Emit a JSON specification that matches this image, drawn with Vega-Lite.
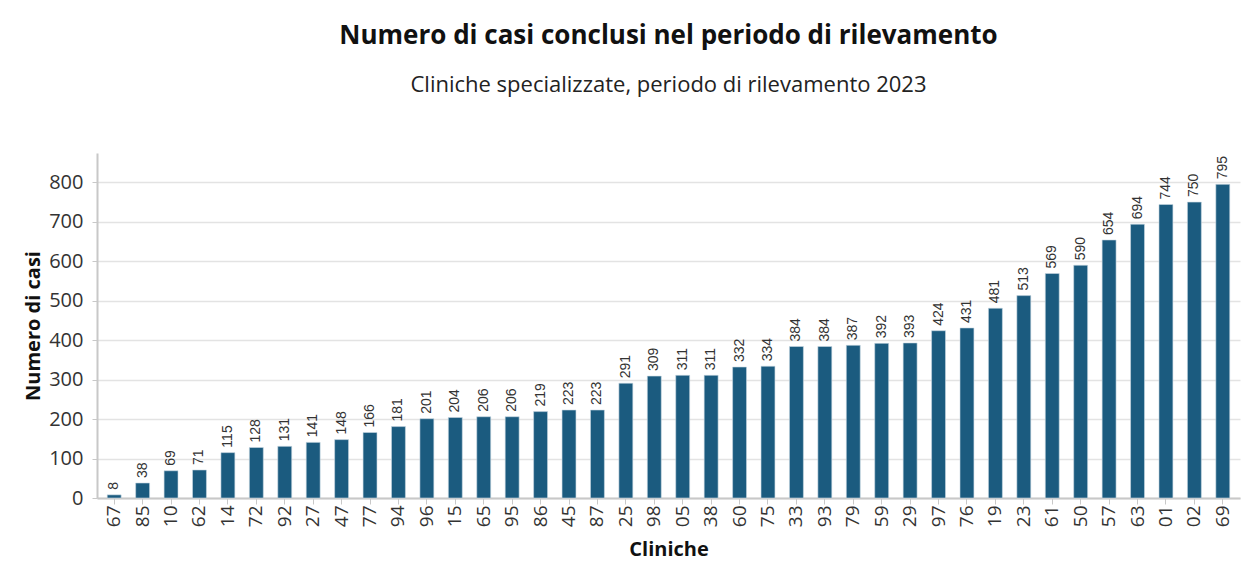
{
  "$schema": "https://vega.github.io/schema/vega-lite/v6.json",
  "width": 1143,
  "height": 345,
  "autosize": {"type": "none"},
  "padding": {"left": 97, "top": 153, "right": 8, "bottom": 73},
  "background": "white",
  "title": {
    "text": "Numero di casi conclusi nel periodo di rilevamento",
    "subtitle": "Cliniche specializzate, periodo di rilevamento 2023",
    "anchor": "middle",
    "frame": "group",
    "font": "Open Sans",
    "fontSize": 26,
    "fontWeight": "bold",
    "color": "#111111",
    "subtitleFont": "Open Sans",
    "subtitleFontSize": 22,
    "subtitleColor": "#222222",
    "subtitlePadding": 26,
    "offset": 57
  },
  "data": {
    "values": [
      {"clinica": "67", "casi": 8},
      {"clinica": "85", "casi": 38},
      {"clinica": "10", "casi": 69},
      {"clinica": "62", "casi": 71},
      {"clinica": "14", "casi": 115},
      {"clinica": "72", "casi": 128},
      {"clinica": "92", "casi": 131},
      {"clinica": "27", "casi": 141},
      {"clinica": "47", "casi": 148},
      {"clinica": "77", "casi": 166},
      {"clinica": "94", "casi": 181},
      {"clinica": "96", "casi": 201},
      {"clinica": "15", "casi": 204},
      {"clinica": "65", "casi": 206},
      {"clinica": "95", "casi": 206},
      {"clinica": "86", "casi": 219},
      {"clinica": "45", "casi": 223},
      {"clinica": "87", "casi": 223},
      {"clinica": "25", "casi": 291},
      {"clinica": "98", "casi": 309},
      {"clinica": "05", "casi": 311},
      {"clinica": "38", "casi": 311},
      {"clinica": "60", "casi": 332},
      {"clinica": "75", "casi": 334},
      {"clinica": "33", "casi": 384},
      {"clinica": "93", "casi": 384},
      {"clinica": "79", "casi": 387},
      {"clinica": "59", "casi": 392},
      {"clinica": "29", "casi": 393},
      {"clinica": "97", "casi": 424},
      {"clinica": "76", "casi": 431},
      {"clinica": "19", "casi": 481},
      {"clinica": "23", "casi": 513},
      {"clinica": "61", "casi": 569},
      {"clinica": "50", "casi": 590},
      {"clinica": "57", "casi": 654},
      {"clinica": "63", "casi": 694},
      {"clinica": "01", "casi": 744},
      {"clinica": "02", "casi": 750},
      {"clinica": "69", "casi": 795}
    ]
  },
  "encoding": {
    "x": {
      "field": "clinica",
      "type": "nominal",
      "sort": null,
      "title": "Cliniche",
      "scale": {"paddingInner": 0.51, "paddingOuter": 0.36},
      "axis": {
        "labelAngle": -90,
        "labelFont": "Open Sans",
        "labelFontSize": 19,
        "labelColor": "#333333",
        "labelPadding": 1,
        "tickSize": 6,
        "tickColor": "#c8c8c8",
        "domainColor": "#c8c8c8",
        "domainWidth": 2,
        "titleFont": "Open Sans",
        "titleFontSize": 20,
        "titleFontWeight": "bold",
        "titleColor": "#111111",
        "titlePadding": 13
      }
    },
    "y": {
      "field": "casi",
      "type": "quantitative",
      "title": "Numero di casi",
      "scale": {"domain": [0, 874.5], "nice": false},
      "axis": {
        "values": [0, 100, 200, 300, 400, 500, 600, 700, 800],
        "labelFont": "Open Sans",
        "labelFontSize": 20,
        "labelColor": "#333333",
        "labelPadding": 9,
        "tickSize": 5,
        "tickColor": "#c8c8c8",
        "domainColor": "#c8c8c8",
        "domainWidth": 2,
        "gridColor": "#e3e3e3",
        "gridWidth": 1.5,
        "titleFont": "Open Sans",
        "titleFontSize": 20,
        "titleFontWeight": "bold",
        "titleColor": "#111111",
        "titlePadding": 5
      }
    }
  },
  "layer": [
    {
      "mark": {"type": "bar", "color": "#1b5b7f", "stroke": "#c9d9e3", "strokeWidth": 0.6}
    },
    {
      "mark": {
        "type": "text",
        "angle": -90,
        "align": "left",
        "baseline": "middle",
        "dx": 5,
        "font": "Liberation Sans",
        "fontSize": 14,
        "color": "#333333"
      },
      "encoding": {"text": {"field": "casi", "type": "quantitative"}}
    }
  ],
  "config": {
    "view": {"stroke": null},
    "axisX": {"grid": false}
  }
}
